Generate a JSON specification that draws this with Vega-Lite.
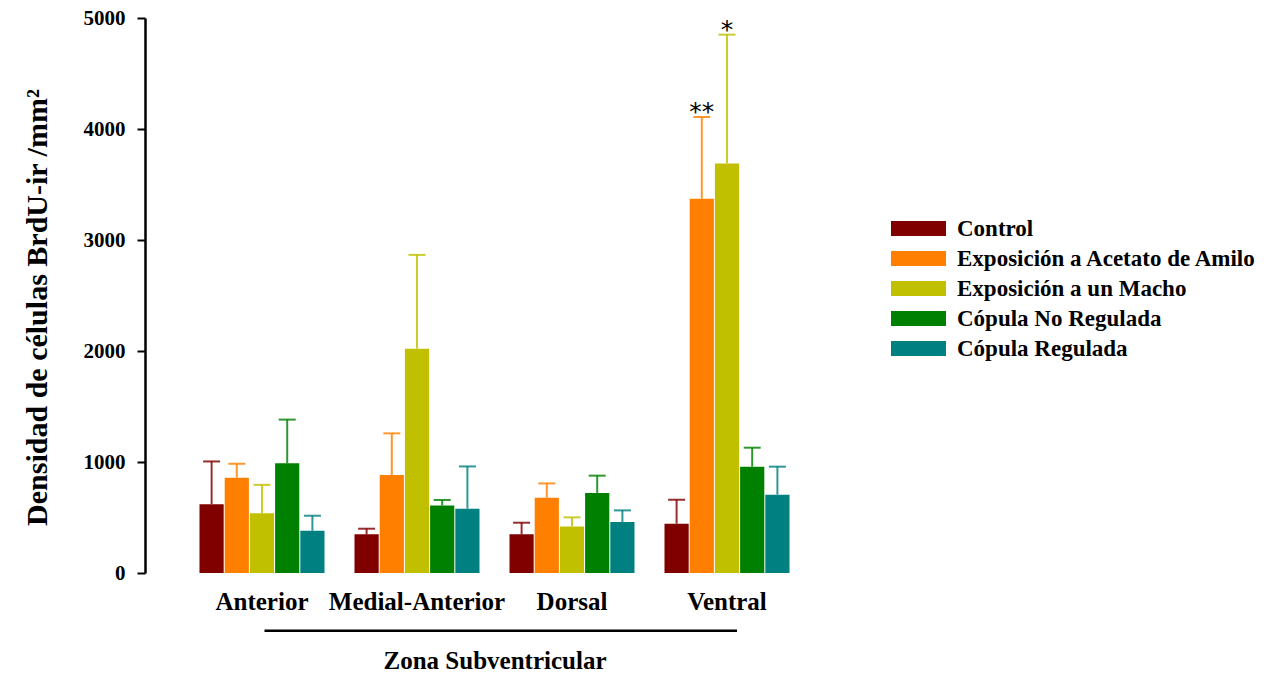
{
  "$schema": "https://vega.github.io/schema/vega-lite/v6.json",
  "width": 699,
  "height": 555,
  "autosize": "none",
  "padding": {"left": 145, "top": 18, "right": 431, "bottom": 102},
  "background": "white",
  "config": {
    "font": "Liberation Serif",
    "view": {"stroke": null}
  },
  "data": {
    "values": [
      {"region": "Anterior", "group": "Control", "value": 620, "upper": 1005, "sig": ""},
      {"region": "Anterior", "group": "Exposición a Acetato de Amilo", "value": 858, "upper": 984, "sig": ""},
      {"region": "Anterior", "group": "Exposición a un Macho", "value": 538, "upper": 794, "sig": ""},
      {"region": "Anterior", "group": "Cópula No Regulada", "value": 988, "upper": 1382, "sig": ""},
      {"region": "Anterior", "group": "Cópula Regulada", "value": 381, "upper": 516, "sig": ""},
      {"region": "Medial-Anterior", "group": "Control", "value": 348, "upper": 399, "sig": ""},
      {"region": "Medial-Anterior", "group": "Exposición a Acetato de Amilo", "value": 883, "upper": 1258, "sig": ""},
      {"region": "Medial-Anterior", "group": "Exposición a un Macho", "value": 2021, "upper": 2866, "sig": ""},
      {"region": "Medial-Anterior", "group": "Cópula No Regulada", "value": 609, "upper": 658, "sig": ""},
      {"region": "Medial-Anterior", "group": "Cópula Regulada", "value": 579, "upper": 960, "sig": ""},
      {"region": "Dorsal", "group": "Control", "value": 348, "upper": 453, "sig": ""},
      {"region": "Dorsal", "group": "Exposición a Acetato de Amilo", "value": 678, "upper": 807, "sig": ""},
      {"region": "Dorsal", "group": "Exposición a un Macho", "value": 420, "upper": 501, "sig": ""},
      {"region": "Dorsal", "group": "Cópula No Regulada", "value": 720, "upper": 877, "sig": ""},
      {"region": "Dorsal", "group": "Cópula Regulada", "value": 459, "upper": 564, "sig": ""},
      {"region": "Ventral", "group": "Control", "value": 444, "upper": 660, "sig": ""},
      {"region": "Ventral", "group": "Exposición a Acetato de Amilo", "value": 3372, "upper": 4108, "sig": "**"},
      {"region": "Ventral", "group": "Exposición a un Macho", "value": 3690, "upper": 4850, "sig": "*"},
      {"region": "Ventral", "group": "Cópula No Regulada", "value": 958, "upper": 1129, "sig": ""},
      {"region": "Ventral", "group": "Cópula Regulada", "value": 706, "upper": 958, "sig": ""}
    ]
  },
  "encoding": {
    "x": {
      "field": "region",
      "type": "nominal",
      "sort": null,
      "scale": {"domain": ["Anterior", "Medial-Anterior", "Dorsal", "Ventral"], "paddingInner": 0.1935, "paddingOuter": 0.3516},
      "axis": {
        "title": "Zona Subventricular",
        "titleFont": "Liberation Serif",
        "titleFontSize": 25,
        "titleFontWeight": "bold",
        "titleColor": "black",
        "titlePadding": 34,
        "labelFont": "Liberation Serif",
        "labelFontSize": 25,
        "labelFontWeight": "bold",
        "labelColor": "black",
        "labelAngle": 0,
        "labelPadding": 16,
        "ticks": false,
        "tickSize": 0,
        "domain": false,
        "grid": false
      }
    },
    "xOffset": {
      "field": "group",
      "type": "nominal",
      "sort": null,
      "scale": {"domain": ["Control", "Exposición a Acetato de Amilo", "Exposición a un Macho", "Cópula No Regulada", "Cópula Regulada"], "paddingInner": 0.04, "paddingOuter": 0}
    },
    "color": {
      "field": "group",
      "type": "nominal",
      "sort": null,
      "scale": {
        "domain": ["Control", "Exposición a Acetato de Amilo", "Exposición a un Macho", "Cópula No Regulada", "Cópula Regulada"],
        "range": ["#800000", "#ff8000", "#c0c000", "#008000", "#008080"]
      },
      "legend": {
        "title": null,
        "orient": "none",
        "legendX": 762,
        "legendY": 199,
        "padding": 0,
        "symbolType": "M-3.667,-1H3.667V1H-3.667Z",
        "symbolSize": 225,
        "symbolStrokeWidth": 0,
        "symbolOpacity": 1,
        "labelFont": "Liberation Serif",
        "labelFontSize": 23,
        "labelFontWeight": "bold",
        "labelColor": "black",
        "labelOffset": 27,
        "labelLimit": 400,
        "rowPadding": 6
      }
    }
  },
  "layer": [
    {
      "mark": {"type": "rule", "strokeWidth": 2, "opacity": 0.82},
      "encoding": {
        "y": {"field": "value", "type": "quantitative"},
        "y2": {"field": "upper"}
      }
    },
    {
      "mark": {"type": "tick", "orient": "horizontal", "size": 17, "thickness": 2, "opacity": 0.82},
      "encoding": {
        "y": {"field": "upper", "type": "quantitative"}
      }
    },
    {
      "mark": {"type": "bar", "opacity": 1},
      "encoding": {
        "y": {
          "field": "value",
          "type": "quantitative",
          "scale": {"domain": [0, 5000], "nice": false, "zero": true},
          "axis": {
            "title": "Densidad de células BrdU-ir /mm²",
            "titleFont": "Liberation Serif",
            "titleFontSize": 30,
            "titleFontWeight": "bold",
            "titleColor": "black",
            "titleX": -108,
            "titleY": 289,
            "titleAngle": -90,
            "titleBaseline": "middle",
            "titleAlign": "center",
            "values": [0, 1000, 2000, 3000, 4000, 5000],
            "format": "d",
            "labelFont": "Liberation Serif",
            "labelFontSize": 21,
            "labelFontWeight": "bold",
            "labelColor": "black",
            "labelPadding": 12,
            "tickSize": 8,
            "tickWidth": 2,
            "tickColor": "black",
            "domainColor": "black",
            "domainWidth": 2.5,
            "grid": false
          }
        }
      }
    },
    {
      "transform": [{"filter": "datum.sig !== ''"}],
      "mark": {"type": "text", "font": "DejaVu Sans", "fontSize": 25, "baseline": "alphabetic", "dy": 3},
      "encoding": {
        "y": {"field": "upper", "type": "quantitative"},
        "text": {"field": "sig"},
        "color": {"value": "black"}
      }
    },
    {
      "data": {"values": [{"a": "Anterior", "b": "Ventral", "yv": -520}]},
      "mark": {"type": "rule", "strokeWidth": 2.5, "color": "black", "clip": false},
      "encoding": {
        "x": {"field": "a", "type": "nominal", "bandPosition": 0.52},
        "x2": {"field": "b", "bandPosition": 0.58},
        "y": {"field": "yv", "type": "quantitative"},
        "xOffset": null,
        "color": null
      }
    }
  ]
}
